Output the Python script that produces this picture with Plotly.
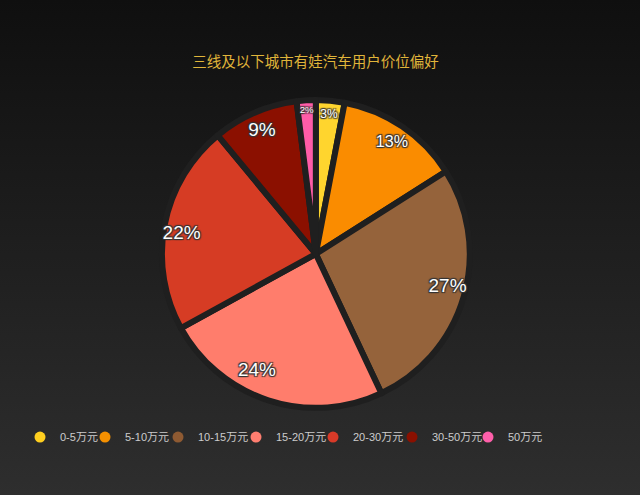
import base64

import plotly.graph_objs as go

# price ranges and the share of buyers in each
price_ranges = ["0-5万元", "5-10万元", "10-15万元", "15-20万元", "20-30万元", "30-50万元", "50万元"]
shares = [3, 13, 27, 24, 22, 9, 2]
slice_colors = ["#FFD52E", "#FA8C00", "#95633B", "#FF7D6C", "#D63C24", "#8B1000", "#FF5CA8"]
legend_colors = ["#FFCF1F", "#F59000", "#8E5A32", "#FF7E70", "#D83A28", "#8A1000", "#FF5FAA"]
label_sizes = [12, 19, 19, 19, 19, 19, 12]
# which labels sit in the rim ring and which hang off a smaller hidden pie
ring_pos = ["inside", "inside", "none", "none", "none", "inside", "inside"]
outer_pos = ["none", "none", "outside", "outside", "outside", "none", "none"]
# left edge of each legend entry (px), legend is split so entries sit like the original
legend_left_px = [20, 85, 158, 236, 313, 392, 468]

chart_title = "三线及以下城市有娃汽车用户价位偏好"

W, H = 640, 495
pie_domain = dict(x=[0.253, 0.734], y=[0.176, 0.798])
small_domain = dict(x=[0.3185, 0.6685], y=[0.261, 0.713])

label_font = dict(family="Liberation Sans, Arial", color="#ffffff", size=label_sizes,
                  shadow="1px 1px 1px #333, -1px -1px 1px #333, 1px -1px 1px #333, -1px 1px 1px #333")

# dark vertical gradient for the page background
bg_svg = (
    '<svg xmlns="http://www.w3.org/2000/svg" width="640" height="495" preserveAspectRatio="none">'
    '<defs><linearGradient id="g" x1="0" y1="0" x2="0" y2="1">'
    '<stop offset="0" stop-color="#0f0f0f"/><stop offset="1" stop-color="#2e2e2e"/>'
    '</linearGradient></defs><rect width="640" height="495" fill="url(#g)"/></svg>'
)
bg_src = "data:image/svg+xml;base64," + base64.b64encode(bg_svg.encode()).decode()

fig = go.Figure()

# the coloured pie
fig.add_trace(go.Pie(
    labels=price_ranges,
    values=shares,
    sort=False,
    direction="clockwise",
    rotation=0,
    marker=dict(colors=slice_colors, line=dict(color="#1f1f1f", width=6)),
    textinfo="none",
    domain=pie_domain,
    showlegend=False,
    hoverinfo="label+percent",
))

# transparent ring on top, carries the labels of the narrow slices near the rim
fig.add_trace(go.Pie(
    labels=price_ranges,
    values=shares,
    sort=False,
    direction="clockwise",
    rotation=0,
    hole=0.76,
    marker=dict(colors=["rgba(0,0,0,0)"] * len(shares), line=dict(width=0)),
    texttemplate="%{percent:.0%}",
    textposition=ring_pos,
    insidetextorientation="horizontal",
    textfont=label_font,
    domain=pie_domain,
    showlegend=False,
    hoverinfo="skip",
))

# hidden smaller pie, its outside labels land on the wide slices near the rim
fig.add_trace(go.Pie(
    labels=price_ranges,
    values=shares,
    sort=False,
    direction="clockwise",
    rotation=0,
    marker=dict(colors=["rgba(0,0,0,0)"] * len(shares), line=dict(width=0)),
    texttemplate="%{percent:.0%}",
    textposition=outer_pos,
    textfont=label_font,
    outsidetextfont=label_font,
    domain=small_domain,
    showlegend=False,
    hoverinfo="skip",
))

# circle legend entries, one small legend each
legend_layout = {}
for i, (name, col) in enumerate(zip(price_ranges, legend_colors)):
    key = "legend" if i == 0 else f"legend{i + 1}"
    fig.add_trace(go.Scatter(
        x=[None], y=[None], mode="markers", name=name,
        marker=dict(symbol="circle", size=11, color=col),
        showlegend=True, legend=key,
    ))
    legend_layout[key] = dict(
        orientation="h", x=legend_left_px[i] / W, xanchor="left", y=0.117, yanchor="middle",
        font=dict(family="Liberation Sans, Noto Sans CJK SC", size=11, color="#cccccc"),
        itemwidth=30, bgcolor="rgba(0,0,0,0)",
    )

fig.update_layout(
    width=W,
    height=H,
    margin=dict(l=0, r=0, t=0, b=0),
    paper_bgcolor="#1c1c1c",
    plot_bgcolor="rgba(0,0,0,0)",
    xaxis=dict(visible=False),
    yaxis=dict(visible=False),
    images=[dict(source=bg_src, xref="paper", yref="paper", x=0, y=1, sizex=1, sizey=1,
                 xanchor="left", yanchor="top", sizing="stretch", layer="below")],
    title=dict(text=chart_title, x=0.493, xanchor="center", y=0.875, yanchor="middle",
               font=dict(family="Noto Sans CJK SC", size=14.5, color="#E0B53A")),
    **legend_layout,
)

fig.write_html("out.html", config={"displayModeBar": False},
               post_script="document.body.style.margin='0';document.body.style.overflow='hidden';")
